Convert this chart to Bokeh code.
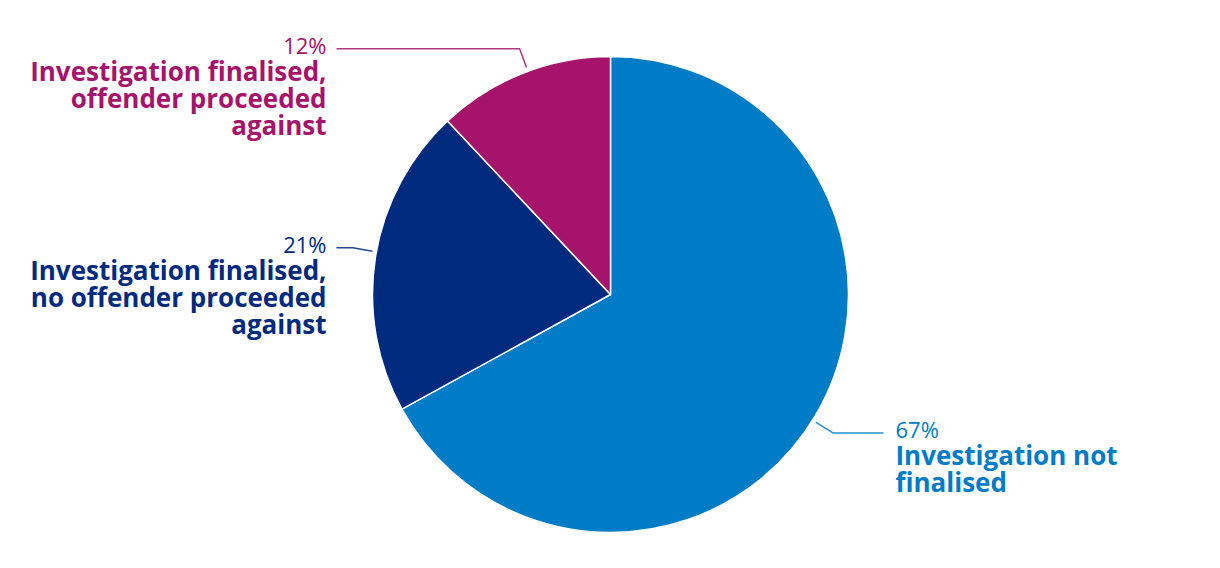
import math
from bokeh.plotting import figure
from bokeh.models import Range1d
from bokeh.core.properties import value
from bokeh.embed import file_html
from bokeh.resources import INLINE

# ---- data ----
categories = [
    "Investigation not finalised",
    "Investigation finalised, no offender proceeded against",
    "Investigation finalised, offender proceeded against",
]
label_lines = [
    ["Investigation not", "finalised"],
    ["Investigation finalised,", "no offender proceeded", "against"],
    ["Investigation finalised,", "offender proceeded", "against"],
]
shares = [67, 21, 12]
pct_labels = ["67%", "21%", "12%"]
colors = ["#007BC5", "#002A7E", "#A5136A"]

# ---- layout ----
W, H = 1204, 552
CX, CY, R = 610, 274, 238
FONT = "Open Sans"
LEADER_SHIFT = math.radians(-1.3)

p = figure(width=W, height=H, output_backend="svg", toolbar_location=None,
           x_range=Range1d(0, W), y_range=Range1d(568 - H, 568),
           min_border=0)
p.axis.visible = False
p.grid.visible = False
p.outline_line_color = None
p.background_fill_color = "white"
p.border_fill_color = "white"

total = float(sum(shares))
cum = 0.0
for share, col, pct, lines in zip(shares, colors, pct_labels, label_lines):
    a0 = math.radians(90 - cum / total * 360)
    a1 = math.radians(90 - (cum + share) / total * 360)
    p.wedge(x=CX, y=CY, radius=R, start_angle=a0, end_angle=a1,
            direction="clock", fill_color=col, line_color="white", line_width=1.5)
    mid = (a0 + a1) / 2 + LEADER_SHIFT
    cum += share
    # leader line
    x1, y1 = CX + (R + 4) * math.cos(mid), CY + (R + 4) * math.sin(mid)
    x2, y2 = CX + (R + 24) * math.cos(mid), CY + (R + 24) * math.sin(mid)
    right = math.cos(mid) > 0
    x3 = 883 if right else 336
    p.line([x1, x2, x3], [y1, y2, y2], line_color=col, line_width=1.5, line_alpha=0.85)
    tx = 895 if right else 326
    align = "left" if right else "right"
    ty = y2 + 3.5
    p.text(x=[tx], y=[ty], text=[pct], text_color=col, text_font=value(FONT),
           text_font_size="22px", text_align=align, text_baseline="middle")
    for i, ln in enumerate(lines):
        p.text(x=[tx], y=[ty - 25.5 - 27 * i], text=[ln], text_color=col,
               text_font=value(FONT), text_font_size="26px", text_font_style="bold",
               text_align=align, text_baseline="middle")

open("out.html", "w").write(file_html(p, INLINE))
